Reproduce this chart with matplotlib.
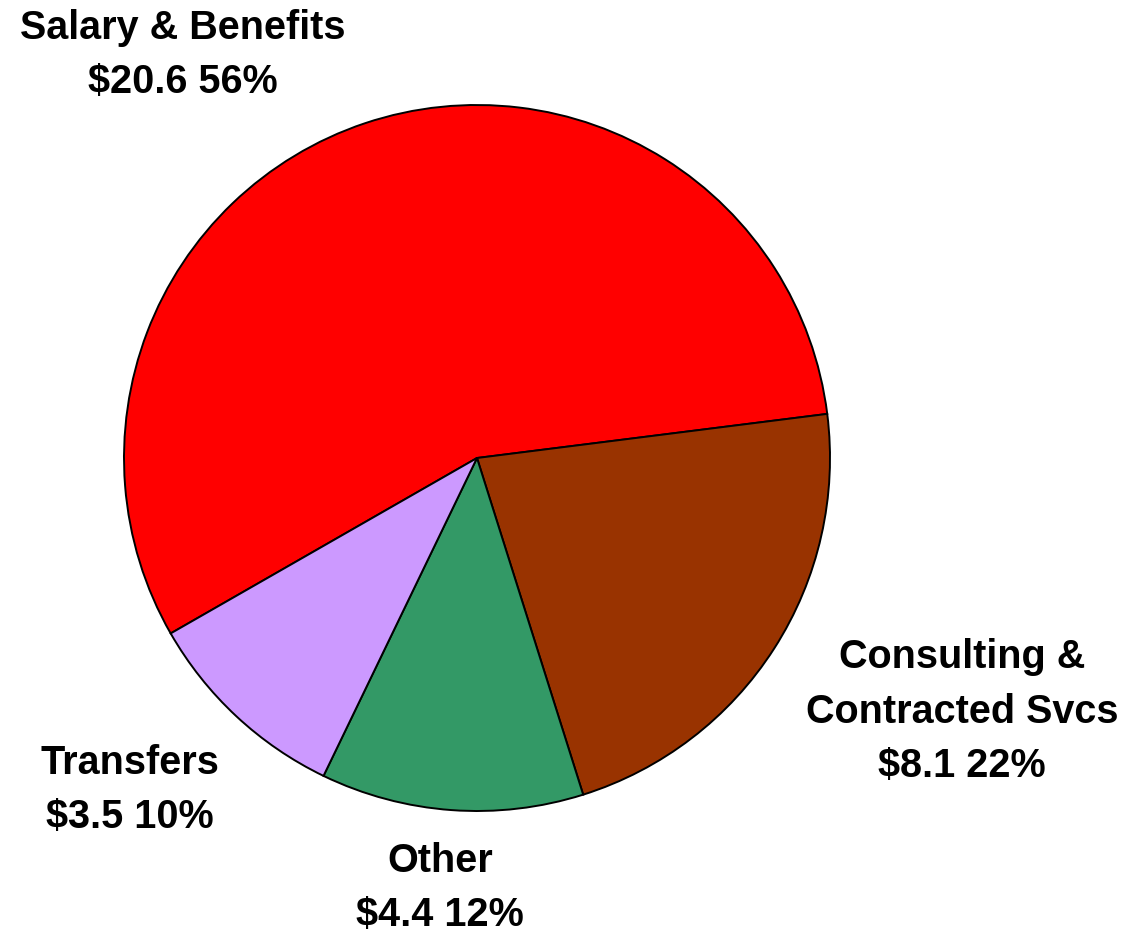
import matplotlib
matplotlib.use("Agg")
import matplotlib.pyplot as plt

categories = ["Salary & Benefits", "Consulting &\nContracted Svcs", "Other", "Transfers"]
values = [20.6, 8.1, 4.4, 3.5]
percents = [56, 22, 12, 10]
colors = ["#FF0000", "#993300", "#339966", "#CC99FF"]

W, H = 1133, 935
fig = plt.figure(figsize=(W / 100, H / 100), dpi=100)
ax = fig.add_axes([0, 0, 1, 1])

cx, cy, r = 477, H - 458, 353
ax.pie(values, colors=colors, startangle=209.8, counterclock=False,
       center=(cx, cy), radius=r, frame=True,
       wedgeprops=dict(edgecolor="black", linewidth=1.4))
ax.set_xlim(0, W)
ax.set_ylim(0, H)
ax.set_aspect("equal")
ax.axis("off")

label_pos = [(183, H - 55), (962, H - 712), (440, H - 888), (130, H - 790)]
for cat, v, p, (x, y) in zip(categories, values, percents, label_pos):
    ax.text(x, y, f"{cat}\n${v:.1f} {p}%", ha="center", va="center",
            fontsize=28.5, fontweight="bold", family="Liberation Sans",
            linespacing=1.55, color="black")

fig.savefig("out.png", dpi=100)
